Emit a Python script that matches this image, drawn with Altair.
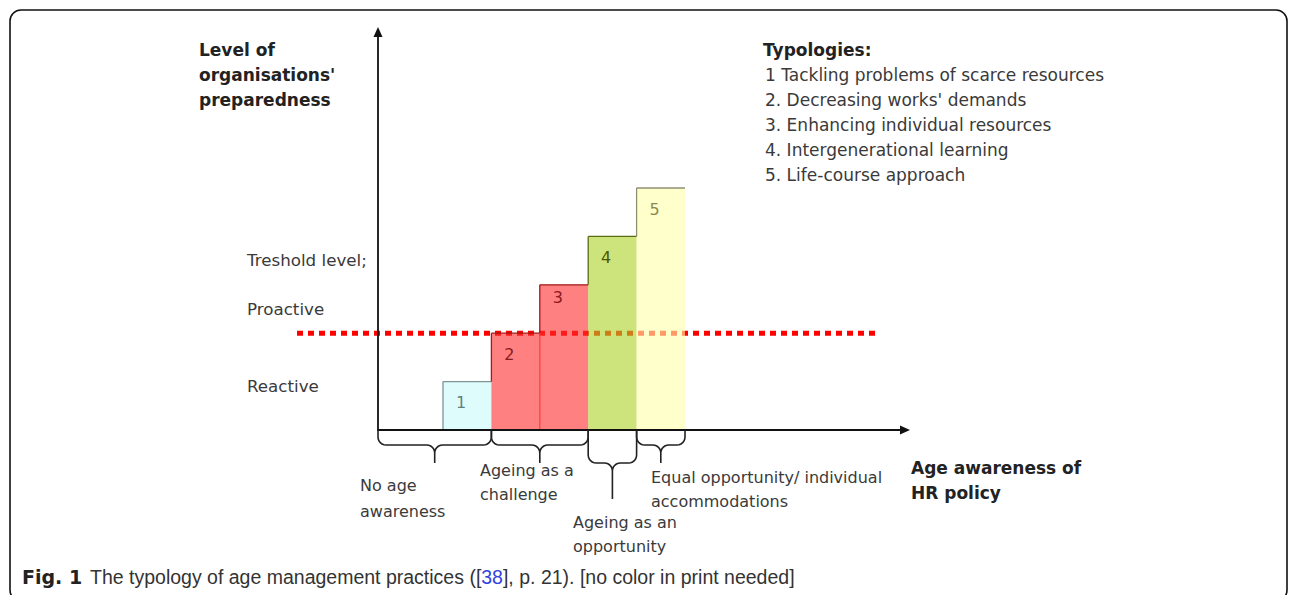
import math
import altair as alt
import pandas as pd

# ---------------- data ----------------
typology_ids = [1, 2, 3, 4, 5]
typology_levels = [1, 2, 3, 4, 5]          # preparedness level of each typology
typology_names = [
    "1 Tackling problems of scarce resources",
    "2. Decreasing works' demands",
    "3. Enhancing individual resources",
    "4. Intergenerational learning",
    "5. Life-course approach",
]
threshold_level = 2
level_labels = ["Treshold level;", "Proactive", "Reactive"]
awareness_groups = [
    ["No age", "awareness"],
    ["Ageing as a", "challenge"],
    ["Ageing as an", "opportunity"],
    ["Equal opportunity/ individual", "accommodations"],
]
group_bars = [[1], [2, 3], [4], [5]]       # which typologies fall under each awareness stage
caption_parts = ["Fig. 1", "The typology of age management practices ([", "38",
                 "], p. 21). [no color in print needed]"]

# ---------------- styles ----------------
bar_fill = ["#cafafa", "#ff2b2b", "#ff2b2b", "#acd023", "#ffffaa"]
bar_edge = ["#7d9595", "#a31818", "#a31818", "#5b6b12", "#8f8f75"]
num_color = ["#5f8080", "#8b1a1a", "#8b1a1a", "#4a5a00", "#8a8a50"]
label_dy = [21, 22, 13, 22, 22]   # px below bar top for the number

UNIT = 48.4               # px per bar width / per level
OX, OY = 378, 430         # reference pixel of the origin
W, H = 1280, 587
FONT = "DejaVu Sans"
TXT = "#3a3a3a"
BOLD = "#222222"


def ux(X):
    return (X - OX) / UNIT


def vy(Y):
    return (OY - Y) / UNIT


xs = alt.Scale(domain=[ux(8), ux(8 + W)], nice=False, zero=False)
ys = alt.Scale(domain=[vy(8 + H), vy(8)], nice=False, zero=False)


def X(f):
    return alt.X(f, type="quantitative", scale=xs, axis=None)


def Y(f):
    return alt.Y(f, type="quantitative", scale=ys, axis=None)


BAR_START = 65 / UNIT

bars = pd.DataFrame({
    "id": typology_ids,
    "level": typology_levels,
    "fill": bar_fill,
    "edge": bar_edge,
    "ncol": num_color,
})
bars["x0"] = BAR_START + bars["id"] - 1
bars["x1"] = bars["x0"] + 1
bars["base"] = 0.0
bars["lx"] = bars["x0"] + 18 / UNIT
bars["ly"] = bars["level"] - pd.Series(label_dy) / UNIT
bars["label"] = bars["id"].astype(str)

# step outline segments
segs = []
prev = 0
for _, r in bars.iterrows():
    segs.append(dict(x=r.x0, y=prev, x2=r.x0, y2=r.level, c=r.edge))
    segs.append(dict(x=r.x0, y=r.level, x2=r.x1, y2=r.level, c=r.edge))
    prev = r.level
# separator inside the "challenge" group
segs.append(dict(x=bars.x0[2], y=0, x2=bars.x0[2], y2=bars.level[1], c="#ff4040"))
segs = pd.DataFrame(segs)

# braces
rx = 8 / UNIT
ry = 8 / UNIT


def brace(x0, x1, body, tip, gid):
    pts = [(x0, 0)]
    xm = (x0 + x1) / 2

    def arc(cx, cy, a0, a1, n=6):
        out = []
        for k in range(n + 1):
            t = math.radians(a0 + (a1 - a0) * k / n)
            out.append((cx + rx * math.cos(t), cy + ry * math.sin(t)))
        return out
    pts += arc(x0 + rx, body - ry, 180, 90)
    pts += arc(xm - rx, body + ry, 270, 360)
    pts.append((xm, tip))
    pts += arc(xm + rx, body + ry, 180, 270)
    pts += arc(x1 - rx, body - ry, 90, 0)
    pts.append((x1, 0))
    return [dict(g=gid, o=i, x=p[0], y=-p[1]) for i, p in enumerate(pts)]


br = []
depths = [(15, 33), (15, 33), (33, 69), (15, 33)]
for gi, members in enumerate(group_bars):
    left = 0 if gi == 0 else bars.x0[members[0] - 1]
    right = bars.x1[members[-1] - 1]
    b, t = depths[gi]
    br += brace(left, right, b / UNIT, t / UNIT, gi)
br = pd.DataFrame(br)

# ---------------- layers ----------------
border = alt.Chart(pd.DataFrame({"x": [ux(10)], "x2": [ux(1287)], "y": [vy(601)], "y2": [vy(10)]})).mark_rect(
    fillOpacity=0, stroke="#111111", strokeWidth=1.6, cornerRadius=11
).encode(x=X("x"), x2="x2", y=Y("y"), y2="y2")

thr = alt.Chart(pd.DataFrame({"x": [ux(297)], "x2": [ux(876)], "y": [threshold_level]})).mark_rule(
    color="#ff0000", strokeWidth=5, strokeDash=[6, 5], strokeCap="butt"
).encode(x=X("x"), x2="x2", y=Y("y"))

bar_layer = alt.Chart(bars).mark_rect(opacity=0.6).encode(
    x=X("x0"), x2="x1", y=Y("base"), y2="level", color=alt.Color("fill:N", scale=None)
)

edge_layer = alt.Chart(segs).mark_rule(strokeWidth=1.3).encode(
    x=X("x"), x2="x2", y=Y("y"), y2="y2", color=alt.Color("c:N", scale=None)
)

nums = alt.Chart(bars).mark_text(font=FONT, fontSize=16, align="center", baseline="middle").encode(
    x=X("lx"), y=Y("ly"), text="label:N", color=alt.Color("ncol:N", scale=None)
)

axes = alt.Chart(pd.DataFrame({
    "x": [0, 0], "y": [vy(431), 0], "x2": [0, ux(902)], "y2": [vy(36), 0]
})).mark_rule(color="#111111", strokeWidth=1.8).encode(x=X("x"), y=Y("y"), x2="x2", y2="y2")

arrow_up = alt.Chart(pd.DataFrame({"x": [0], "y": [vy(32)]})).mark_point(
    shape="M0,-1L0.9,1L-0.9,1Z", filled=True, size=100, color="#111111", opacity=1
).encode(x=X("x"), y=Y("y"))
arrow_rt = alt.Chart(pd.DataFrame({"x": [ux(905)], "y": [0]})).mark_point(
    shape="M1,0L-1,0.9L-1,-0.9Z", filled=True, size=100, color="#111111", opacity=1
).encode(x=X("x"), y=Y("y"))

brace_layer = alt.Chart(br).mark_line(color="#222222", strokeWidth=1.6).encode(
    x=X("x"), y=Y("y"), detail="g:N", order="o:Q"
)


def txt_df(rows):
    d = pd.DataFrame(rows, columns=["t", "X", "Y"])
    d["x"] = d["X"].map(ux)
    d["y"] = d["Y"].map(vy)
    return d


typ_df = txt_df([(n, 765, yy) for n, yy in zip(typology_names, [80.5, 106, 131, 156, 181])])
lvl_df = txt_df([(t, 247, yy) for t, yy in zip(level_labels, [266, 315, 391.5])])
gpos = [(360, [491, 516.5]), (480, [476, 500]), (573, [528, 551.5]), (651, [482.5, 506.5])]
grp_rows = []
for lines, (gx, gys) in zip(awareness_groups, gpos):
    for t, yy in zip(lines, gys):
        grp_rows.append((t, gx, yy))
grp_df = txt_df(grp_rows)

bold = txt_df([
    ("Level of", 199, 55.5), ("organisations'", 199, 80.5), ("preparedness", 199, 105.5),
    ("Typologies:", 763, 55.5),
    ("Age awareness of", 911, 473.5), ("HR policy", 911, 499),
])


def text_layer(df, size, color=TXT, weight="normal"):
    return alt.Chart(df).mark_text(
        font=FONT, fontSize=size, fontWeight=weight, align="left", baseline="alphabetic", color=color
    ).encode(x=X("x"), y=Y("y"), text="t:N")


typ_layer = text_layer(typ_df, 17)
lvl_layer = text_layer(lvl_df, 16.7)
grp_layer = text_layer(grp_df, 16)
bold_layer = text_layer(bold, 17, BOLD, "bold")

# caption: Liberation Sans (Arial metrics) -> widths in em
CAP_FONT = "Liberation Sans"
CS = 19.5
w_part1 = 20.065 * CS
w_38 = 1.112 * CS
cap_start = 90
cap_y = vy(584)
cap_bold = alt.Chart(pd.DataFrame({"t": [caption_parts[0]], "x": [ux(22)], "y": [cap_y]})).mark_text(
    font=FONT, fontSize=19, fontWeight="bold", align="left", baseline="alphabetic", color="#222222"
).encode(x=X("x"), y=Y("y"), text="t:N")
cap_reg = alt.Chart(pd.DataFrame({
    "t": [caption_parts[1], caption_parts[3]],
    "x": [ux(cap_start), ux(cap_start + w_part1 + w_38)], "y": [cap_y, cap_y]
})).mark_text(
    font=CAP_FONT, fontSize=CS, align="left", baseline="alphabetic", color="#333333"
).encode(x=X("x"), y=Y("y"), text="t:N")
cap_ref = alt.Chart(pd.DataFrame({"t": [caption_parts[2]], "x": [ux(cap_start + w_part1)], "y": [cap_y]})).mark_text(
    font=CAP_FONT, fontSize=CS, align="left", baseline="alphabetic", color="#3344dd"
).encode(x=X("x"), y=Y("y"), text="t:N")

chart = alt.layer(
    border, thr, bar_layer, edge_layer, nums, axes, arrow_up, arrow_rt, brace_layer,
    typ_layer, lvl_layer, grp_layer, bold_layer, cap_bold, cap_reg, cap_ref
).properties(
    width=W, height=H, padding=0, autosize=alt.AutoSizeParams(type="none"), background="white"
).configure_view(stroke=None)

chart.save("out.html", embed_options={"renderer": "svg", "actions": False})
